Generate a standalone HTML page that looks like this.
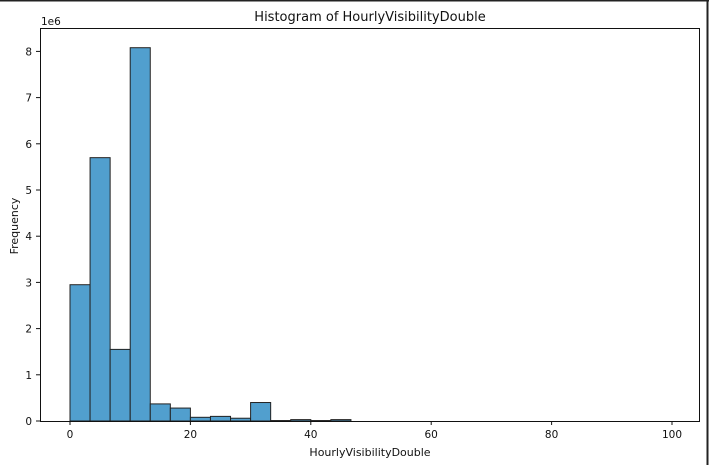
<!DOCTYPE html>
<html><head><meta charset="utf-8"><style>
html,body{margin:0;padding:0;background:#fff;}
svg{display:block;font-family:"DejaVu Sans","Liberation Sans",sans-serif;}
</style></head><body>
<svg id="chart" width="709" height="465">
<rect x="0" y="0" width="709" height="465" fill="#fff"/>
<line x1="0" y1="0.5" x2="709" y2="0.5" stroke="#222" stroke-width="2"/>
<line x1="707.5" y1="0" x2="707.5" y2="465" stroke="#222" stroke-width="2"/>
<text x="370" y="21" font-size="13" text-anchor="middle" fill="#111">Histogram of HourlyVisibilityDouble</text>
<text x="370" y="456" font-size="11" text-anchor="middle" fill="#111">HourlyVisibilityDouble</text>
<text x="18" y="226" font-size="11" text-anchor="middle" fill="#111" transform="rotate(-90 18 226)">Frequency</text>
<text x="41" y="25" font-size="10.5" fill="#111">1e6</text>
<g id="bars"></g>
<g id="axes"></g>
</svg>
<script>
const binEdges = [0,3.333,6.667,10,13.333,16.667,20,23.333,26.667,30,33.333,36.667,40,43.333,46.667];
const counts = [2.95,5.7,1.55,8.08,0.37,0.28,0.08,0.1,0.06,0.4,0.01,0.03,0.01,0.03];
const xTicks = [0,20,40,60,80,100];
const yTicks = [0,1,2,3,4,5,6,7,8];
const L=40,R=699,T=28,B=421;
const xs = v => 70 + v*6.02;
const ys = v => 421 - v*46.2;
const NS="http://www.w3.org/2000/svg";
const bars=document.getElementById('bars'), axes=document.getElementById('axes');
counts.forEach((c,i)=>{
  const r=document.createElementNS(NS,'rect');
  const x0=xs(binEdges[i]), x1=xs(binEdges[i+1]);
  r.setAttribute('x',x0);r.setAttribute('y',ys(c));
  r.setAttribute('width',x1-x0);r.setAttribute('height',ys(0)-ys(c));
  r.setAttribute('fill','#519fce');r.setAttribute('stroke','#222');r.setAttribute('stroke-width','1');
  
  
  bars.appendChild(r);
});
const frame=document.createElementNS(NS,'rect');
frame.setAttribute('x',L+0.5);frame.setAttribute('y',T+0.5);
frame.setAttribute('width',R-L);frame.setAttribute('height',B-T);
frame.setAttribute('fill','none');frame.setAttribute('stroke','#111');


axes.appendChild(frame);
xTicks.forEach(t=>{
  const x=xs(t);
  const l=document.createElementNS(NS,'line');
  l.setAttribute('x1',x);l.setAttribute('x2',x);l.setAttribute('y1',B);l.setAttribute('y2',B+4);l.setAttribute('stroke','#111');
  
  
  axes.appendChild(l);
  const tx=document.createElementNS(NS,'text');
  tx.setAttribute('x',x);tx.setAttribute('y',B+17);tx.setAttribute('font-size','10.5');tx.setAttribute('text-anchor','middle');tx.setAttribute('fill','#111');
  tx.textContent=t;
  
  
  axes.appendChild(tx);
});
yTicks.forEach(t=>{
  const y=ys(t);
  const l=document.createElementNS(NS,'line');
  l.setAttribute('x1',L-4);l.setAttribute('x2',L);l.setAttribute('y1',y);l.setAttribute('y2',y);l.setAttribute('stroke','#111');
  
  
  axes.appendChild(l);
  const tx=document.createElementNS(NS,'text');
  tx.setAttribute('x',L-8);tx.setAttribute('y',y+4);tx.setAttribute('font-size','10.5');tx.setAttribute('text-anchor','end');tx.setAttribute('fill','#111');
  tx.textContent=t;
  
  
  axes.appendChild(tx);
});
</script>
</body></html>
